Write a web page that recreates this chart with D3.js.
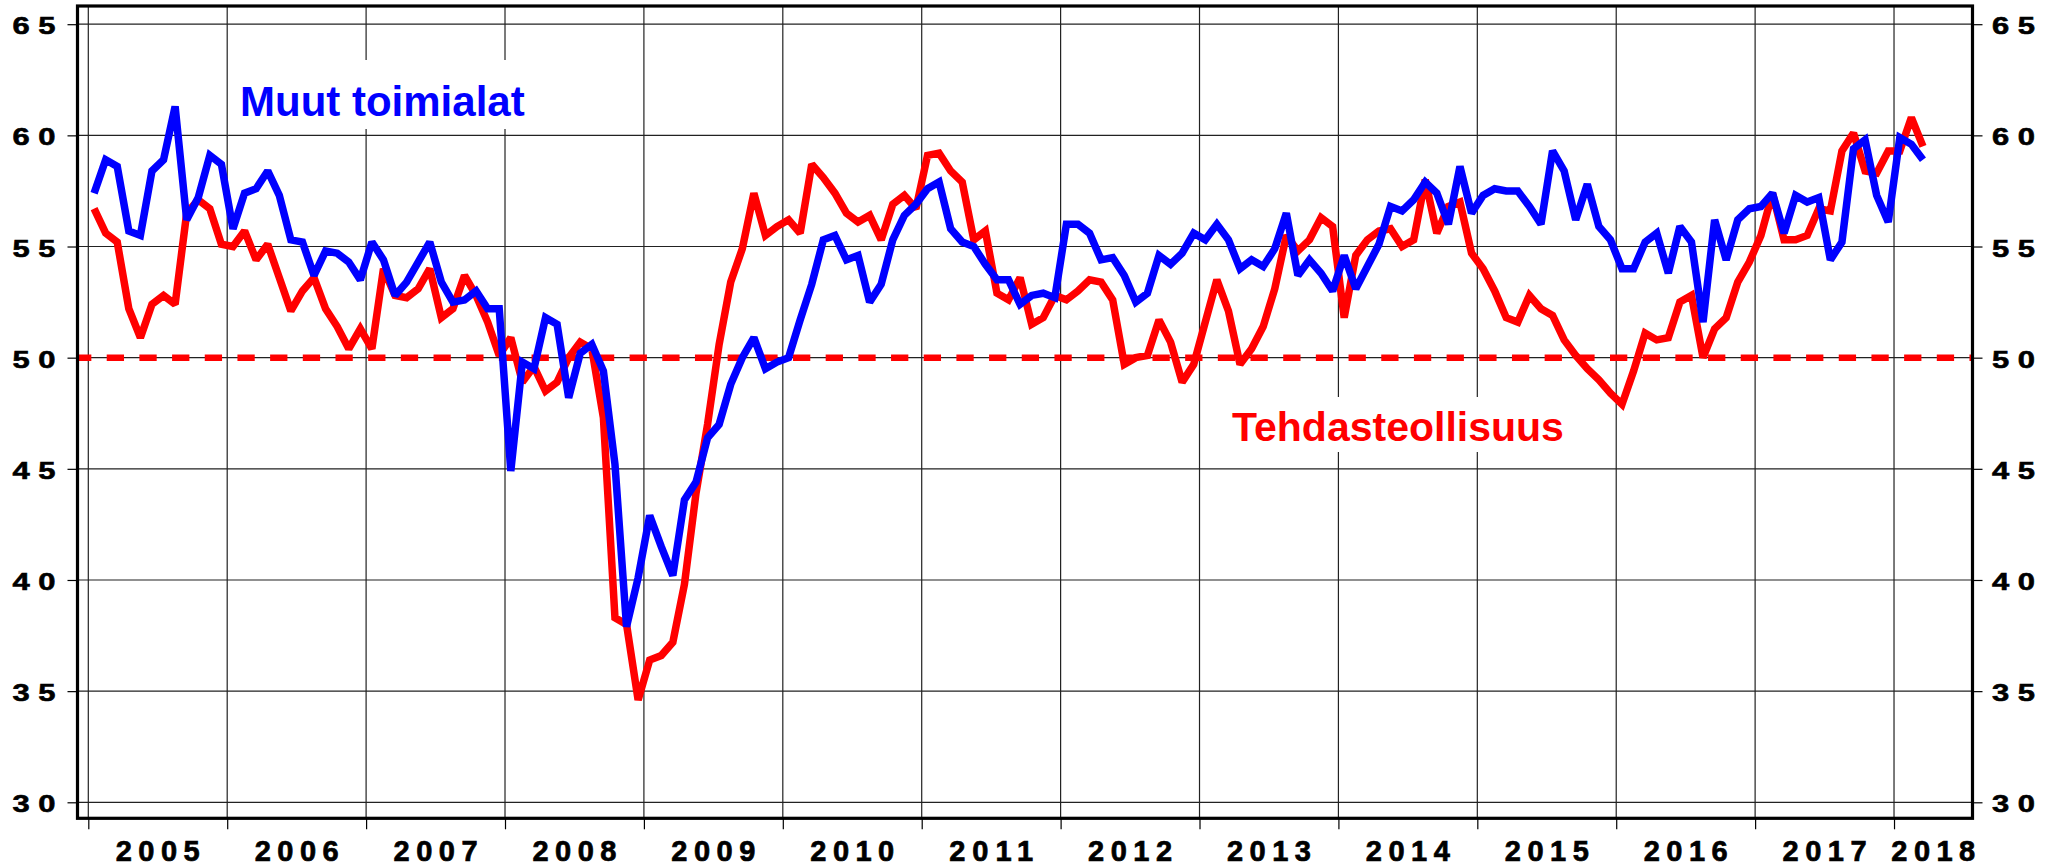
<!DOCTYPE html>
<html>
<head>
<meta charset="utf-8">
<script src="https://cdn.jsdelivr.net/npm/d3@7"></script>
<style>
body { margin: 0; background: #fff; }
text { font-family: "Liberation Sans", Arial, sans-serif; font-weight: bold; }
</style>
</head>
<body>
<svg id="chart"></svg>
<script>
// monthly values, Jan 2005 - Mar 2018
let years = [2005, 2006, 2007, 2008, 2009, 2010, 2011, 2012, 2013, 2014, 2015, 2016, 2017, 2018];
let yTicks = [30, 35, 40, 45, 50, 55, 60, 65];
let refLevel = 50;

let tehdas = [
    56.7, 55.6, 55.2, 52.2, 50.9, 52.4, 52.8, 52.4, 56.5, 57.1, 56.7, 55.1,
    55.0, 55.7, 54.4, 55.1, 53.6, 52.1, 53.0, 53.6, 52.2, 51.4, 50.4, 51.3,
    50.4, 54.0, 52.8, 52.7, 53.1, 54.0, 51.8, 52.2, 53.7, 52.8, 51.6, 50.1,
    50.9, 48.9, 49.6, 48.5, 48.9, 50.0, 50.7, 50.4, 47.3, 38.3, 38.0, 34.6,
    36.4, 36.6, 37.2, 39.8, 43.9, 47.0, 50.6, 53.4, 54.9, 57.4, 55.5, 55.9,
    56.2, 55.6, 58.7, 58.1, 57.4, 56.5, 56.1, 56.4, 55.3, 56.9, 57.3, 56.7,
    59.1, 59.2, 58.4, 57.9, 55.3, 55.7, 52.9, 52.6, 53.6, 51.5, 51.8, 52.8,
    52.6, 53.0, 53.5, 53.4, 52.6, 49.7, 50.0, 50.1, 51.7, 50.7, 48.9, 49.7,
    51.6, 53.5, 52.1, 49.7, 50.4, 51.4, 53.1, 55.5, 54.8, 55.3, 56.3, 55.9,
    51.8, 54.6, 55.3, 55.7, 55.8, 55.0, 55.3, 58.0, 55.6, 56.8, 57.0, 54.7,
    54.0, 53.0, 51.8, 51.6, 52.8, 52.2, 51.9, 50.8, 50.1, 49.5, 49.0, 48.4,
    47.9, 49.4, 51.1, 50.8, 50.9, 52.5, 52.8, 50.0, 51.3, 51.8, 53.4, 54.3,
    55.5, 57.4, 55.3, 55.3, 55.5, 56.7, 56.6, 59.3, 60.1, 58.4, 58.3, 59.3,
    59.3, 60.8, 59.5
];

let muut = [
    57.4, 58.9, 58.6, 55.7, 55.5, 58.4, 58.9, 61.3, 56.2, 57.2, 59.1, 58.7,
    55.8, 57.4, 57.6, 58.4, 57.3, 55.3, 55.2, 53.7, 54.8, 54.7, 54.3, 53.5,
    55.2, 54.4, 52.8, 53.4, 54.3, 55.2, 53.4, 52.5, 52.6, 53.0, 52.2, 52.2,
    44.9, 49.8, 49.5, 51.8, 51.5, 48.2, 50.2, 50.6, 49.4, 45.2, 37.9, 40.1,
    42.9, 41.5, 40.2, 43.6, 44.4, 46.4, 47.0, 48.8, 50.0, 50.9, 49.5, 49.8,
    50.0, 51.7, 53.3, 55.3, 55.5, 54.4, 54.6, 52.5, 53.3, 55.3, 56.4, 56.9,
    57.6, 57.9, 55.8, 55.2, 55.0, 54.2, 53.5, 53.5, 52.4, 52.8, 52.9, 52.7,
    56.0, 56.0, 55.6, 54.4, 54.5, 53.7, 52.5, 52.9, 54.6, 54.2, 54.7, 55.6,
    55.3, 56.0, 55.3, 54.0, 54.4, 54.1, 54.9, 56.5, 53.7, 54.4, 53.8, 53.0,
    54.6, 53.1, 54.1, 55.1, 56.8, 56.6, 57.1, 57.9, 57.4, 56.0, 58.6, 56.5,
    57.3, 57.6, 57.5, 57.5, 56.8, 56.0, 59.3, 58.4, 56.2, 57.8, 55.9, 55.3,
    54.0, 54.0, 55.2, 55.6, 53.8, 55.9, 55.2, 51.6, 56.2, 54.4, 56.2, 56.7,
    56.8, 57.4, 55.6, 57.3, 57.0, 57.2, 54.4, 55.2, 59.4, 59.8, 57.3, 56.1,
    59.9, 59.6, 58.9
];

drawChart();

function drawChart() {
    let svgWidth = 2045, svgHeight = 865;
    let plot = { left: 77.5, right: 1972.5, top: 6, bottom: 818.3 };

    let svg = d3.select('#chart')
        .attr('width', svgWidth)
        .attr('height', svgHeight);

    // x in months since Jan 2005
    let x = d3.scaleLinear()
        .domain([-0.933, 162.78])
        .range([plot.left, plot.right]);

    let y = d3.scaleLinear()
        .domain([30, 65])
        .range([802.3, 24.2]);

    let yearTicks = years.map(function (yr) { return (yr - 2005) * 12 });

    // grid
    svg.append('g').selectAll('line')
        .data(yTicks)
        .join('line')
        .attr('x1', plot.left).attr('x2', plot.right)
        .attr('y1', function (d) { return y(d) })
        .attr('y2', function (d) { return y(d) })
        .attr('stroke', '#222')
        .attr('stroke-width', 1.2);

    svg.append('g').selectAll('line')
        .data(yearTicks)
        .join('line')
        .attr('x1', function (d) { return x(d) })
        .attr('x2', function (d) { return x(d) })
        .attr('y1', plot.top).attr('y2', plot.bottom)
        .attr('stroke', '#222')
        .attr('stroke-width', 1.2);

    // label backgrounds hide the grid
    svg.append('rect')
        .attr('x', 232).attr('y', 60).attr('width', 298).attr('height', 69)
        .attr('fill', '#fff');
    svg.append('rect')
        .attr('x', 1226).attr('y', 397).attr('width', 342).attr('height', 55)
        .attr('fill', '#fff');

    // 50 reference line
    svg.append('line')
        .attr('x1', plot.left).attr('x2', plot.right)
        .attr('y1', y(refLevel)).attr('y2', y(refLevel))
        .attr('stroke', '#ff0000')
        .attr('stroke-width', 6.5)
        .attr('stroke-dasharray', '17.3,15.38')
        .attr('stroke-dashoffset', 3.46);

    let line = d3.line()
        .x(function (d, i) { return x(i + 0.5) })
        .y(function (d) { return y(d) });

    svg.append('path')
        .datum(tehdas)
        .attr('fill', 'none')
        .attr('stroke', '#ff0000')
        .attr('stroke-width', 7.5)
        .attr('stroke-linejoin', 'miter')
        .attr('stroke-miterlimit', 2)
        .attr('d', line);

    svg.append('path')
        .datum(muut)
        .attr('fill', 'none')
        .attr('stroke', '#0000ff')
        .attr('stroke-width', 7.5)
        .attr('stroke-linejoin', 'miter')
        .attr('stroke-miterlimit', 2)
        .attr('d', line);

    svg.append('text')
        .attr('x', 240).attr('y', 116)
        .attr('font-size', 42)
        .attr('fill', '#0000ff')
        .text('Muut toimialat');

    svg.append('text')
        .attr('x', 1232).attr('y', 441)
        .attr('font-size', 41)
        .attr('fill', '#ff0000')
        .text('Tehdasteollisuus');

    // frame
    svg.append('rect')
        .attr('x', plot.left).attr('y', plot.top)
        .attr('width', plot.right - plot.left)
        .attr('height', plot.bottom - plot.top)
        .attr('fill', 'none')
        .attr('stroke', '#000')
        .attr('stroke-width', 3.2);

    let spaced = function (d) { return String(d).split('').join(' ') };

    let left = svg.append('g')
        .attr('transform', 'translate(' + plot.left + ',0)')
        .call(d3.axisLeft(y).tickValues(yTicks).tickSize(10).tickPadding(12).tickFormat(spaced));

    let right = svg.append('g')
        .attr('transform', 'translate(' + plot.right + ',0)')
        .call(d3.axisRight(y).tickValues(yTicks).tickSize(10).tickPadding(9.5).tickFormat(spaced));

    [left, right].forEach(function (g) {
        g.select('.domain').remove();
        g.selectAll('.tick line').attr('stroke', '#000').attr('stroke-width', 1.2);
        g.selectAll('.tick text')
            .attr('fill', '#000')
            .attr('stroke', '#000')
            .attr('stroke-width', 0.6)
            .attr('font-size', 24)
            .attr('dy', '0.4em')
            .attr('textLength', 43)
            .attr('lengthAdjust', 'spacingAndGlyphs');
    });

    let bottom = svg.append('g')
        .attr('transform', 'translate(0,' + plot.bottom + ')')
        .call(d3.axisBottom(x).tickValues(yearTicks).tickSize(11).tickFormat(''));
    bottom.select('.domain').remove();
    bottom.selectAll('.tick line').attr('stroke', '#000').attr('stroke-width', 1.2);

    let end = x.domain()[1];
    svg.append('g').selectAll('text')
        .data(years)
        .join('text')
        .attr('x', function (d) {
            let m = (d - 2005) * 12;
            return x((m + Math.min(m + 12, end)) / 2);
        })
        .attr('y', 860.5)
        .attr('text-anchor', 'middle')
        .attr('font-size', 29)
        .attr('textLength', 84)
        .attr('lengthAdjust', 'spacing')
        .attr('fill', '#000')
        .attr('stroke', '#000')
        .attr('stroke-width', 0.7)
        .text(function (d) { return d });
}
</script>
</body>
</html>
